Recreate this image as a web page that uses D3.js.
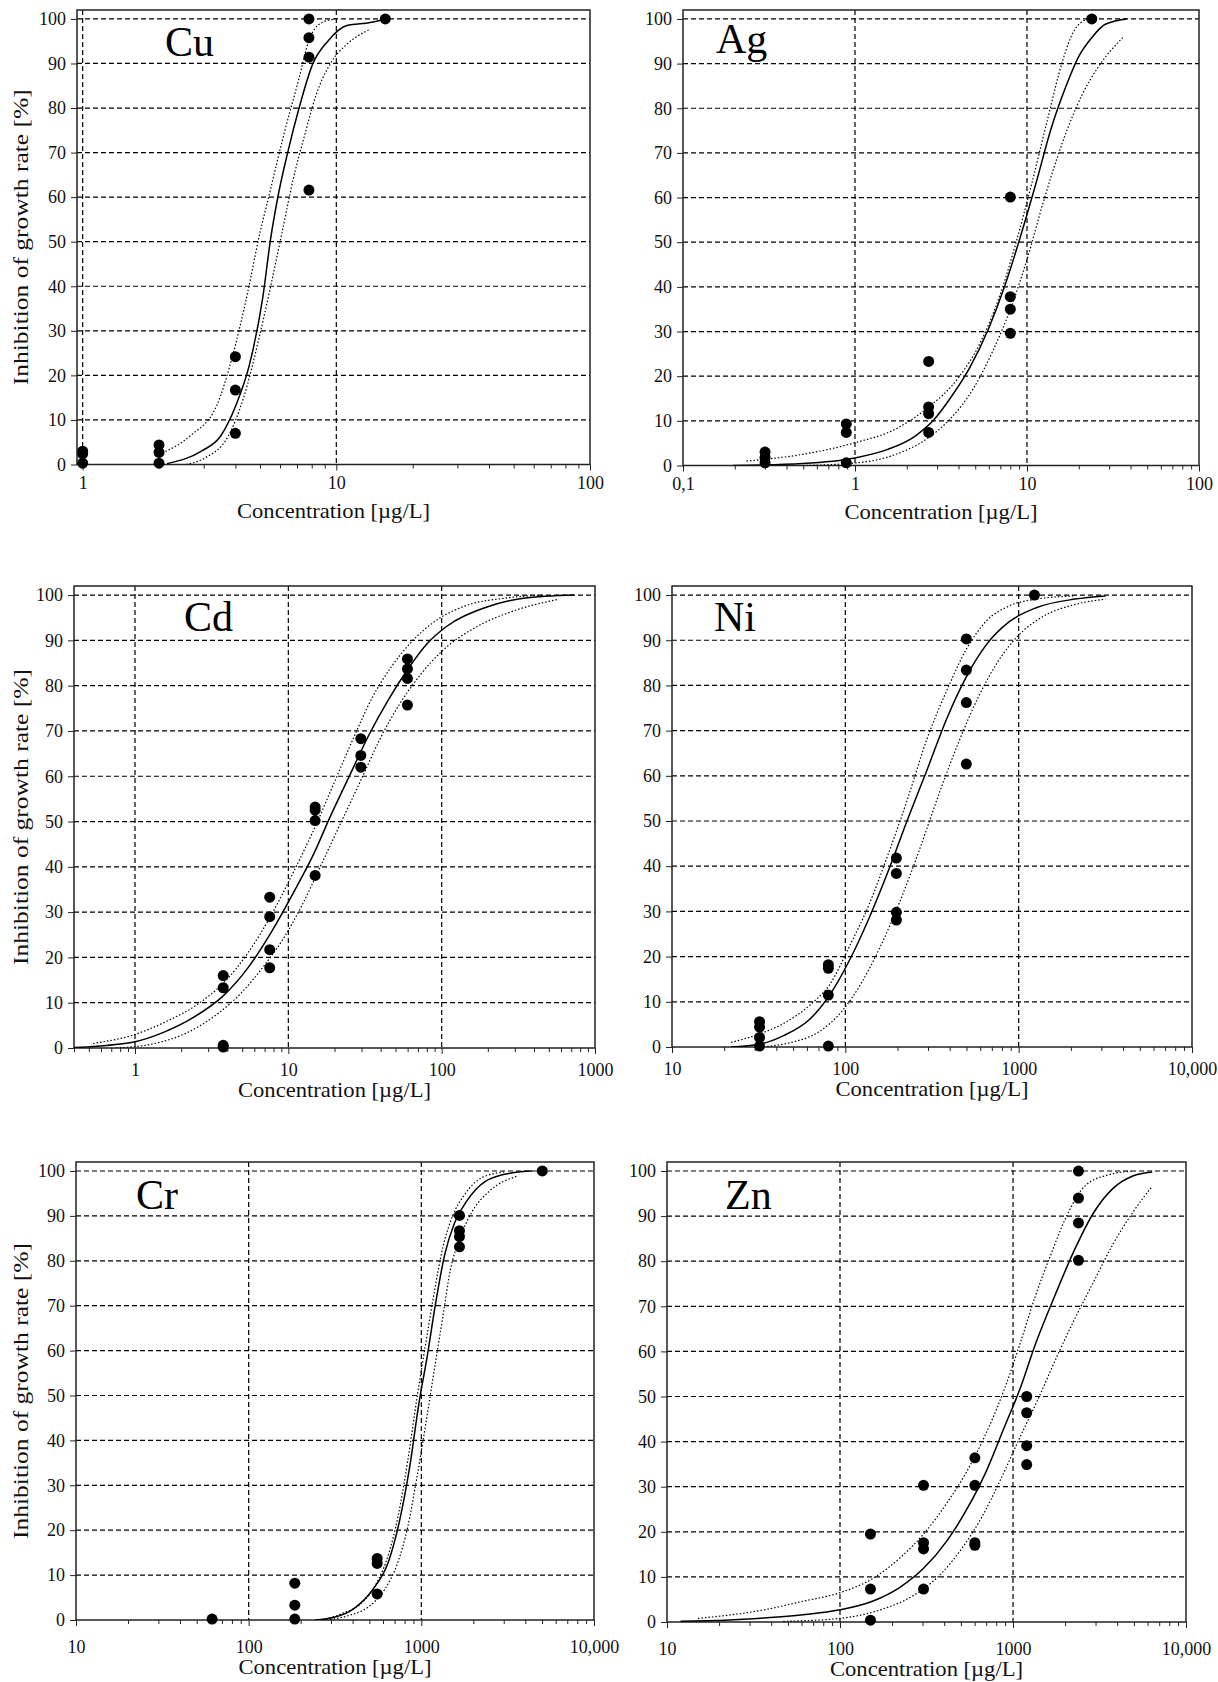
<!DOCTYPE html>
<html>
<head>
<meta charset="utf-8">
<script src="https://cdn.jsdelivr.net/npm/d3@7"></script>
<style>
  body { margin: 0; background: #fff; }
  svg { display: block; }
</style>
</head>
<body>
<svg id="chart" width="1218" height="1682"></svg>
<script>
// measured points [concentration µg/L, inhibition %]
const cuPoints = [[1,3.0],[1,2.4],[1,0.3],[2,4.4],[2,2.7],[2,0.3],[4,24.2],[4,16.7],[4,7.0],
  [7.8,100],[7.8,95.8],[7.8,91.4],[7.8,61.6],[15.6,100]];
const agPoints = [[0.3,3.0],[0.3,1.8],[0.3,0.6],[0.89,9.3],[0.89,7.4],[0.89,0.6],
  [2.68,23.3],[2.68,13.1],[2.68,11.6],[2.68,7.4],[8.0,60.1],[8.0,37.8],[8.0,35.0],[8.0,29.6],[23.8,100]];
const cdPoints = [[3.76,16.0],[3.76,13.3],[3.76,0.6],[3.76,0.2],[7.56,33.3],[7.56,29.0],[7.56,21.7],[7.56,17.7],
  [14.95,53.2],[14.95,52.5],[14.95,50.2],[14.95,38.1],[29.7,68.3],[29.7,64.6],[29.7,62.0],
  [59.8,85.9],[59.8,83.7],[59.8,81.6],[59.8,75.7]];
const niPoints = [[32,5.6],[32,4.4],[32,2.1],[32,0.2],[79.8,18.2],[79.8,17.4],[79.8,11.5],[79.8,0.2],
  [197,41.8],[197,38.4],[197,29.8],[197,28.1],[499,90.3],[499,83.4],[499,76.2],[499,62.6],[1233,100]];
const crPoints = [[61.4,0.2],[185,8.2],[185,3.3],[185,0.2],[555,13.7],[555,12.6],[555,5.8],
  [1663,90.1],[1663,86.7],[1663,85.4],[1663,83.1],[5020,100]];
const znPoints = [[150,19.5],[150,7.3],[150,0.4],[304,30.3],[304,17.6],[304,16.2],[304,7.3],
  [602,36.4],[602,30.3],[602,17.6],[602,17.0],[1200,50.0],[1200,46.4],[1200,39.1],[1200,34.9],
  [2390,100],[2390,94],[2390,88.5],[2390,80.2]];

// fitted curves and confidence limits
const cuFit = [[2.15,0.2],[2.94,3.0],[3.5,6.4],[4.02,13.3],[4.54,22.3],[5.13,37.5],[5.5,50.4],[5.89,60.2],
  [6.43,70],[7.13,80],[8.06,89.8],[9.26,95],[11.0,98.5],[13.6,99.2],[15.6,100]];
const cuUpper = [[2.0,2.3],[2.65,6.4],[3.38,13.3],[3.88,23.9],[4.46,38.3],[4.96,51.1],[5.5,61.7],[6.2,73.9],
  [7.13,86.7],[7.78,95],[8.6,98.9],[9.9,100]];
const cuLower = [[2.56,0],[3.04,1.5],[3.75,6.4],[4.3,14.8],[4.96,28.4],[5.5,39.8],[6.1,51.9],[6.76,64],
  [7.5,73.9],[8.33,83],[9.6,90.5],[11.0,94.3],[13.6,97.7]];

const agFit = [[0.196,0],[0.496,0.45],[1.0,1.7],[1.55,3.6],[2.24,6.6],[2.9,10.4],[3.57,15],[4.63,21.8],[6.0,30.8],
  [7.38,39.9],[9.15,51.2],[11.3,63.3],[13.8,75.4],[17.0,85.3],[19.8,91.3],[23.8,95.8],[28.5,98.8],[38,100]];
const agUpper = [[0.234,1.0],[0.496,2.5],[1.0,5.1],[1.73,8.2],[2.6,12.7],[3.96,19.5],[5.4,27.8],[7.0,38.4],
  [8.6,49.7],[10.7,63.4],[13.2,77.7],[16.1,90.6],[18.8,97.4],[22.6,100]];
const agLower = [[0.496,0],[1.03,0.6],[1.73,2.5],[2.6,5.9],[3.57,10.4],[4.87,17.2],[6.3,25.5],[8.2,36.1],
  [10.1,46.7],[12.4,58.8],[16.1,72.4],[20.9,83],[25.7,89],[36,95.8]];

const cdFit = [[0.4,0.1],[0.565,0.4],[0.8,0.9],[1.0,1.4],[1.52,3.4],[2.42,6.8],[3.76,11.5],[5.48,17.8],[7.78,25.7],
  [11.0,34.8],[14.8,43.2],[18.6,50.8],[24.9,59.9],[33.4,69],[44.6,76.7],[59.8,83.5],[80,89.2],[107,93.0],
  [191,97.2],[342,99.3],[733,100]];
const cdUpper = [[0.533,1.0],[1.0,3.0],[1.61,5.9],[2.57,9.7],[3.76,14.3],[5.48,21.1],[7.78,29.5],[11.0,39.4],
  [14.8,48.5],[19.8,58.4],[26.5,68.3],[35.3,77.4],[47.3,84.3],[63.3,89.6],[89.5,94.1],[142,97.6],[256,99.3],[458,100]];
const cdLower = [[0.756,0],[1.35,1.0],[2.16,3.3],[3.44,7.5],[4.88,12],[6.92,18.1],[9.3,24.2],[12.4,31.8],
  [16.6,40.9],[22.2,50],[29.7,59.1],[39.7,68.3],[53.1,75.9],[71.1,82],[101,87.7],[161,92.6],[289,96.4],[582,99.1]];

const niFit = [[21.9,0],[32,0.6],[44,2.5],[63,6.3],[81.9,11.7],[106,19.3],[137,28.5],[178,39.2],[230,50.6],
  [296,61.3],[385,72.7],[499,81.9],[645,88.8],[883,94.1],[1263,97.2],[2111,99.1],[3170,99.8]];
const niUpper = [[21.9,1.0],[32,2.9],[44,5.2],[63,9.4],[81.9,14],[106,22.4],[137,31.5],[178,43],[230,55.2],
  [296,68.2],[385,78.9],[499,88],[645,94.1],[883,97.6],[1263,99.1],[2111,99.8]];
const niLower = [[32.3,0],[48.6,1.0],[70,3.3],[95.5,7.9],[123,14],[160,22.4],[207,32.3],[268,43.7],[347,56],
  [450,67.4],[583,77.3],[751,85],[1023,91.5],[1390,95.3],[2111,97.9],[3170,99.1]];

const crFit = [[242,0],[313,0.6],[405,2.5],[524,6.8],[644,12.9],[749,22.2],[853,33.7],[970,48.4],[1086,59.1],
  [1202,69.9],[1368,81.5],[1557,88.4],[1818,93.1],[2350,97.7],[3380,99.6],[4380,100]];
const crUpper = [[268,0],[346,1.4],[448,3.7],[552,8.3],[644,14.5],[732,23],[833,35.3],[947,49.9],[1051,60.7],
  [1170,71.5],[1333,83],[1518,90],[1770,94.6],[2240,98.5],[3050,99.8]];
const crLower = [[283,0],[380,1.0],[493,2.9],[613,6.8],[732,12.9],[833,20.6],[947,32.2],[1086,46.1],[1202,56.9],
  [1333,67.6],[1468,77.7],[1685,85.4],[1960,90.8],[2460,95.4],[3560,98.8]];

const znFit = [[11.98,0.15],[21.7,0.4],[36.5,0.9],[61,1.6],[100,2.7],[154,4.6],[222,7.7],[304,11.9],[415,18],
  [539,24.9],[698,33.3],[893,43.3],[1098,51.7],[1350,61.7],[1747,72.4],[2260,82.4],[2930,90.8],[3800,96.2],
  [4920,98.9],[6380,99.8]];
const znUpper = [[15.1,0.8],[36.5,2.7],[61,4.6],[100,6.5],[154,9.6],[222,14.2],[304,19.5],[415,26.4],[539,33.3],
  [698,41.8],[893,51.7],[1098,61.7],[1350,72.4],[1660,81.6],[2040,90],[2640,96.9],[3600,99.2],[4920,100]];
const znLower = [[47,0.15],[100,0.8],[171,2.7],[261,5.7],[375,10.3],[510,16.5],[663,23.4],[853,31.8],[1098,41],
  [1410,49.8],[1820,59.4],[2260,67],[2930,75.5],[3800,83.9],[4920,90.8],[6380,96.6]];

// axes
const yTicks = [0, 10, 20, 30, 40, 50, 60, 70, 80, 90, 100];
const cuXTicks = ['1', '10', '100'];
const agXTicks = ['0,1', '1', '10', '100'];
const cdXTicks = ['1', '10', '100', '1000'];
const bigXTicks = ['10', '100', '1000', '10,000'];

const FONT = "'Liberation Serif', 'Times New Roman', serif";
const svg = d3.select('#chart');

const panels = [
  {name: 'Cu', points: cuPoints, fit: cuFit, upper: cuUpper, lower: cuLower,
   domain: [0.95, 100], ticks: [1, 10, 100], labels: cuXTicks,
   box: [77, 10, 590, 464.5], nameAt: [165, 56], yTitle: true, titleDy: 53, pad: 6},
  {name: 'Ag', points: agPoints, fit: agFit, upper: agUpper, lower: agLower,
   domain: [0.1, 100], ticks: [0.1, 1, 10, 100], labels: agXTicks,
   box: [683, 10, 1199, 465.5], nameAt: [716, 53], yTitle: false, titleDy: 53, pad: 6},
  {name: 'Cd', points: cdPoints, fit: cdFit, upper: cdUpper, lower: cdLower,
   domain: [0.4, 1000], ticks: [1, 10, 100, 1000], labels: cdXTicks,
   box: [74, 586, 595, 1048], nameAt: [184, 631], yTitle: true, titleDy: 49, pad: 9},
  {name: 'Ni', points: niPoints, fit: niFit, upper: niUpper, lower: niLower,
   domain: [10, 10000], ticks: [10, 100, 1000, 10000], labels: bigXTicks,
   box: [672, 586, 1192, 1047], nameAt: [714, 631], yTitle: false, titleDy: 49, pad: 9},
  {name: 'Cr', points: crPoints, fit: crFit, upper: crUpper, lower: crLower,
   domain: [10, 10000], ticks: [10, 100, 1000, 10000], labels: bigXTicks,
   box: [76, 1162, 594, 1620], nameAt: [136, 1209], yTitle: true, titleDy: 54, pad: 14},
  {name: 'Zn', points: znPoints, fit: znFit, upper: znUpper, lower: znLower,
   domain: [10, 10000], ticks: [10, 100, 1000, 10000], labels: bigXTicks,
   box: [667, 1162, 1186, 1622], nameAt: [725, 1209], yTitle: false, titleDy: 54, pad: 14}
];

panels.forEach((p, i) => {
  const [left, top, right, bottom] = p.box;
  const x = d3.scaleLog().domain(p.domain).range([left, right]);
  const y = d3.scaleLinear().domain([0, 102]).range([bottom, top]);
  const g = svg.append('g').attr('font-family', FONT);

  svg.append('clipPath').attr('id', 'clip' + i)
    .append('rect').attr('x', left).attr('y', top - 6)
    .attr('width', right - left).attr('height', bottom - top + 6);

  // grid
  g.append('g').selectAll('line').data(yTicks.slice(1)).join('line')
    .attr('x1', left).attr('x2', right)
    .attr('y1', d => y(d)).attr('y2', d => y(d))
    .attr('stroke', '#000').attr('stroke-width', 1.2).attr('stroke-dasharray', '5,3');
  let vgrid = p.ticks.filter(d => x(d) > left + 1 && x(d) < right - 1);
  g.append('g').selectAll('line').data(vgrid).join('line')
    .attr('x1', d => x(d)).attr('x2', d => x(d))
    .attr('y1', top).attr('y2', bottom)
    .attr('stroke', '#000').attr('stroke-width', 1.2).attr('stroke-dasharray', '5,3');

  // minor ticks
  let minor = [];
  p.ticks.forEach(t => { for (let k = 2; k < 10; k++) minor.push(t * k); });
  for (let k = 2; k < 10; k++) minor.push(p.ticks[0] / 10 * k);
  minor = minor.filter(d => d >= p.domain[0] && d <= p.domain[1]);
  g.append('g').attr('transform', `translate(0,${bottom})`)
    .call(d3.axisBottom(x).tickValues(minor).tickSize(4).tickFormat(''))
    .call(a => a.select('.domain').remove())
    .selectAll('line').attr('stroke', '#222');

  // major x axis
  const xa = g.append('g').attr('transform', `translate(0,${bottom})`)
    .call(d3.axisBottom(x).tickValues(p.ticks).tickSize(6).tickPadding(p.pad)
      .tickFormat((d, j) => p.labels[j]));
  xa.select('.domain').remove();
  xa.selectAll('line').attr('stroke', '#222');
  xa.selectAll('text').attr('font-family', FONT).attr('font-size', 18).attr('fill', '#111');

  // y axis
  const ya = g.append('g').attr('transform', `translate(${left},0)`)
    .call(d3.axisLeft(y).tickValues(yTicks).tickSize(6).tickPadding(5));
  ya.select('.domain').remove();
  ya.selectAll('line').attr('stroke', '#222');
  ya.selectAll('text').attr('font-family', FONT).attr('font-size', 18).attr('fill', '#111');

  // frame
  g.append('rect').attr('x', left).attr('y', top)
    .attr('width', right - left).attr('height', bottom - top)
    .attr('fill', 'none').attr('stroke', '#222').attr('stroke-width', 1.5);

  // curves
  const line = d3.line().x(d => x(d[0])).y(d => y(d[1])).curve(d3.curveMonotoneX);
  const curves = g.append('g').attr('clip-path', `url(#clip${i})`).attr('fill', 'none');
  curves.append('path').attr('d', line(p.upper))
    .attr('stroke', '#000').attr('stroke-width', 1.2).attr('stroke-dasharray', '1.5,2');
  curves.append('path').attr('d', line(p.lower))
    .attr('stroke', '#000').attr('stroke-width', 1.2).attr('stroke-dasharray', '1.5,2');
  curves.append('path').attr('d', line(p.fit))
    .attr('stroke', '#000').attr('stroke-width', 1.5);

  // data points
  g.append('g').selectAll('circle').data(p.points).join('circle')
    .attr('cx', d => x(d[0])).attr('cy', d => y(d[1])).attr('r', 5.5)
    .attr('fill', '#000');

  // metal label
  g.append('text').attr('x', p.nameAt[0]).attr('y', p.nameAt[1])
    .attr('font-size', 42).attr('fill', '#000').text(p.name);

  // axis titles
  g.append('text')
    .attr('x', (left + right) / 2).attr('y', bottom + p.titleDy)
    .attr('text-anchor', 'middle').attr('font-size', 21).attr('fill', '#111')
    .attr('textLength', 193).attr('lengthAdjust', 'spacingAndGlyphs')
    .text('Concentration [µg/L]');
  if (p.yTitle) {
    g.append('text')
      .attr('transform', `translate(28,${(top + bottom) / 2}) rotate(-90)`)
      .attr('text-anchor', 'middle').attr('font-size', 22).attr('fill', '#111')
      .attr('textLength', 296).attr('lengthAdjust', 'spacingAndGlyphs')
      .text('Inhibition of growth rate [%]');
  }
});
</script>
</body>
</html>
